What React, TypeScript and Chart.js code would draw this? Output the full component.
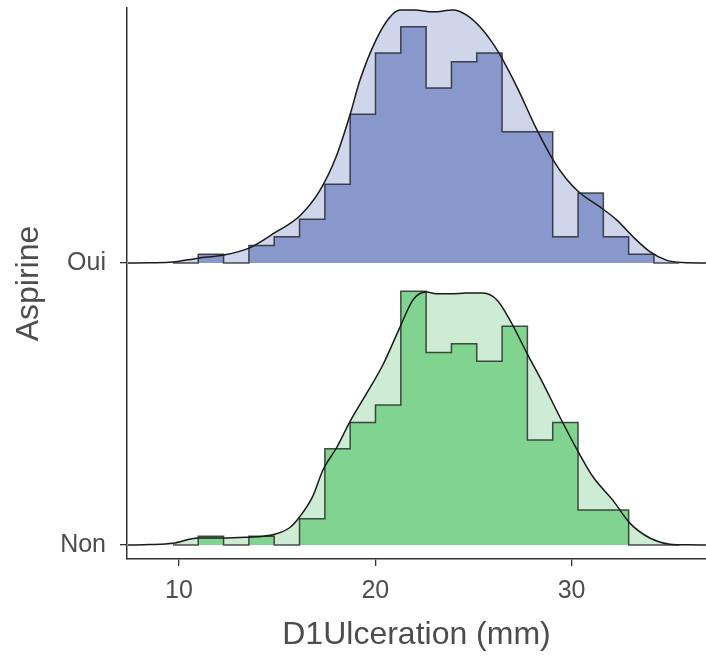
import React, { useEffect, useRef } from 'react';
import { Chart, registerables } from 'chart.js';

Chart.register(...registerables);

// ---- data ----
const groups = ['Non', 'Oui'];
const binEdges = [9.69, 10.98, 12.27, 13.56, 14.85, 16.14, 17.43, 18.72, 20.01, 21.30, 22.59, 23.88, 25.17, 26.46, 27.75, 29.04, 30.33, 31.62, 32.91, 34.20, 35.49];
const ouiCounts = [0, 1, 0, 2, 3, 5, 9, 17, 24, 27, 20, 23, 24, 15, 15, 3, 8, 3, 1, 0];
const nonCounts = [0, 1, 0, 1, 0, 3, 11, 14, 16, 29, 22, 23, 21, 25, 12, 14, 4, 4, 0, 0];

const ouiDensX = [7.4, 8.5, 9.69, 10.97, 12.29, 13.57, 14.84, 16.16, 17.18, 18.0, 18.71, 19.22, 20.04, 20.75, 21.26, 22.0, 22.94, 23.96, 24.67, 25.33, 25.99, 26.35, 27.22, 28.24, 29.05, 29.77, 30.43, 31.45, 32.31, 33.13, 33.99, 34.86, 35.67, 36.85];
const ouiDensY = [0, 0.02, 0.1, 0.55, 0.9, 1.7, 3.4, 5.4, 8.3, 12.1, 16.9, 20.9, 25.5, 28.1, 28.9, 28.9, 28.7, 28.9, 28.3, 27.0, 25.1, 23.8, 20.1, 15.2, 11.8, 9.5, 8.0, 6.4, 4.9, 3.0, 1.3, 0.3, 0.05, 0];

const nonDensX = [7.4, 8.5, 9.69, 10.97, 12.29, 13.57, 14.3, 14.84, 15.65, 16.14, 16.8, 17.34, 18.05, 18.71, 19.58, 20.39, 21.26, 21.92, 22.58, 23.2, 23.81, 24.67, 25.49, 26.2, 26.86, 27.73, 28.54, 29.41, 30.28, 31.09, 32.11, 32.97, 33.99, 35.01, 36.0, 36.85];
const nonDensY = [0, 0.05, 0.2, 0.8, 0.8, 0.9, 1.0, 1.2, 2.0, 3.2, 5.5, 8.6, 11.2, 14.1, 17.4, 20.6, 24.9, 28.0, 28.9, 28.7, 28.7, 28.8, 28.8, 28.0, 25.7, 21.9, 18.5, 14.6, 10.9, 7.8, 5.1, 2.5, 0.8, 0.1, 0.02, 0];

const xTicks = [10, 20, 30];
const xTitle = 'D1Ulceration (mm)';
const yTitle = 'Aspirine';

// ridge height of one count, in group units
const COUNT_SCALE = 8.75 / 282;
const FONT = '"Liberation Sans", Arial, sans-serif';

function histPoints(counts: number[], offset: number) {
  const pts = [{ x: binEdges[0], y: offset }];
  counts.forEach((c, i) => pts.push({ x: binEdges[i], y: offset + c * COUNT_SCALE }));
  pts.push({ x: binEdges[counts.length], y: offset });
  return pts;
}

function densPoints(xs: number[], ys: number[], offset: number) {
  return xs.map((x, i) => ({ x, y: offset + ys[i] * COUNT_SCALE }));
}

export default function App() {
  const ref = useRef<HTMLCanvasElement>(null);

  useEffect(() => {
    if (!ref.current) return;
    const ouiOff = groups.indexOf('Oui');
    const nonOff = groups.indexOf('Non');
    const series = [
      { off: ouiOff, counts: ouiCounts, dx: ouiDensX, dy: ouiDensY, dark: 'rgb(136,152,204)', light: 'rgb(207,213,234)', base: 6 },
      { off: nonOff, counts: nonCounts, dx: nonDensX, dy: nonDensY, dark: 'rgb(128,212,144)', light: 'rgb(206,236,212)', base: 3 },
    ];
    const datasets: any[] = [];
    series.forEach((s) => {
      const dens = densPoints(s.dx, s.dy, s.off);
      datasets.push({
        data: dens,
        order: s.base,
        borderWidth: 0,
        borderColor: 'rgba(0,0,0,0)',
        backgroundColor: s.light,
        fill: { value: s.off },
        pointRadius: 0,
        cubicInterpolationMode: 'monotone',
      });
      datasets.push({
        data: histPoints(s.counts, s.off),
        order: s.base - 1,
        stepped: 'before',
        borderWidth: 1.5,
        borderColor: 'rgba(30,30,30,0.78)',
        backgroundColor: s.dark,
        fill: { value: s.off },
        pointRadius: 0,
      });
      datasets.push({
        data: dens,
        order: s.base - 2,
        borderWidth: 1.5,
        borderColor: '#1a1a1a',
        fill: false,
        pointRadius: 0,
        cubicInterpolationMode: 'monotone',
      });
    });

    const axisGrid = { display: true, drawOnChartArea: false, drawTicks: true, tickLength: 7, color: '#333', lineWidth: 1.3 };
    const axisBorder = { display: true, color: '#333', width: 1.5 };

    const chart = new Chart(ref.current, {
      type: 'line',
      data: { datasets },
      options: {
        animation: false,
        responsive: false,
        devicePixelRatio: 1,
        layout: { padding: { top: 8, left: 0, right: 0, bottom: 0 } },
        plugins: { legend: { display: false }, tooltip: { enabled: false } },
        scales: {
          x: {
            type: 'linear',
            min: 7.35,
            max: 36.85,
            afterBuildTicks: (s: any) => { s.ticks = xTicks.map((v) => ({ value: v })); },
            afterFit: (s: any) => { s.height = 98; s.paddingLeft = 0; s.paddingRight = 0; },
            ticks: { color: '#4d4d4d', font: { size: 25, family: FONT }, padding: 10, maxRotation: 0, autoSkip: false, callback: (v: any) => String(v) },
            grid: axisGrid,
            border: axisBorder,
            title: { display: true, text: xTitle, color: '#4d4d4d', font: { size: 32, family: FONT }, padding: { top: 0, bottom: 3 } },
          },
          y: {
            type: 'linear',
            min: -0.0496,
            max: 1.904,
            afterBuildTicks: (s: any) => { s.ticks = groups.map((_, i) => ({ value: i })); },
            afterFit: (s: any) => { s.width = 127; s.paddingTop = 0; s.paddingBottom = 0; },
            ticks: { color: '#4d4d4d', font: { size: 25, family: FONT }, padding: 14, callback: (v: any) => groups[v] ?? '' },
            grid: axisGrid,
            border: axisBorder,
            title: { display: true, text: yTitle, color: '#4d4d4d', font: { size: 32, family: FONT }, padding: { top: 10, bottom: 0 } },
          },
        },
      } as any,
    });
    return () => chart.destroy();
  }, []);

  return (
    <div style={{ position: 'fixed', left: 0, top: 0, width: 706, height: 657, background: '#fff' }}>
      <canvas ref={ref} width={706} height={657} style={{ width: 706, height: 657, display: 'block' }} />
    </div>
  );
}
